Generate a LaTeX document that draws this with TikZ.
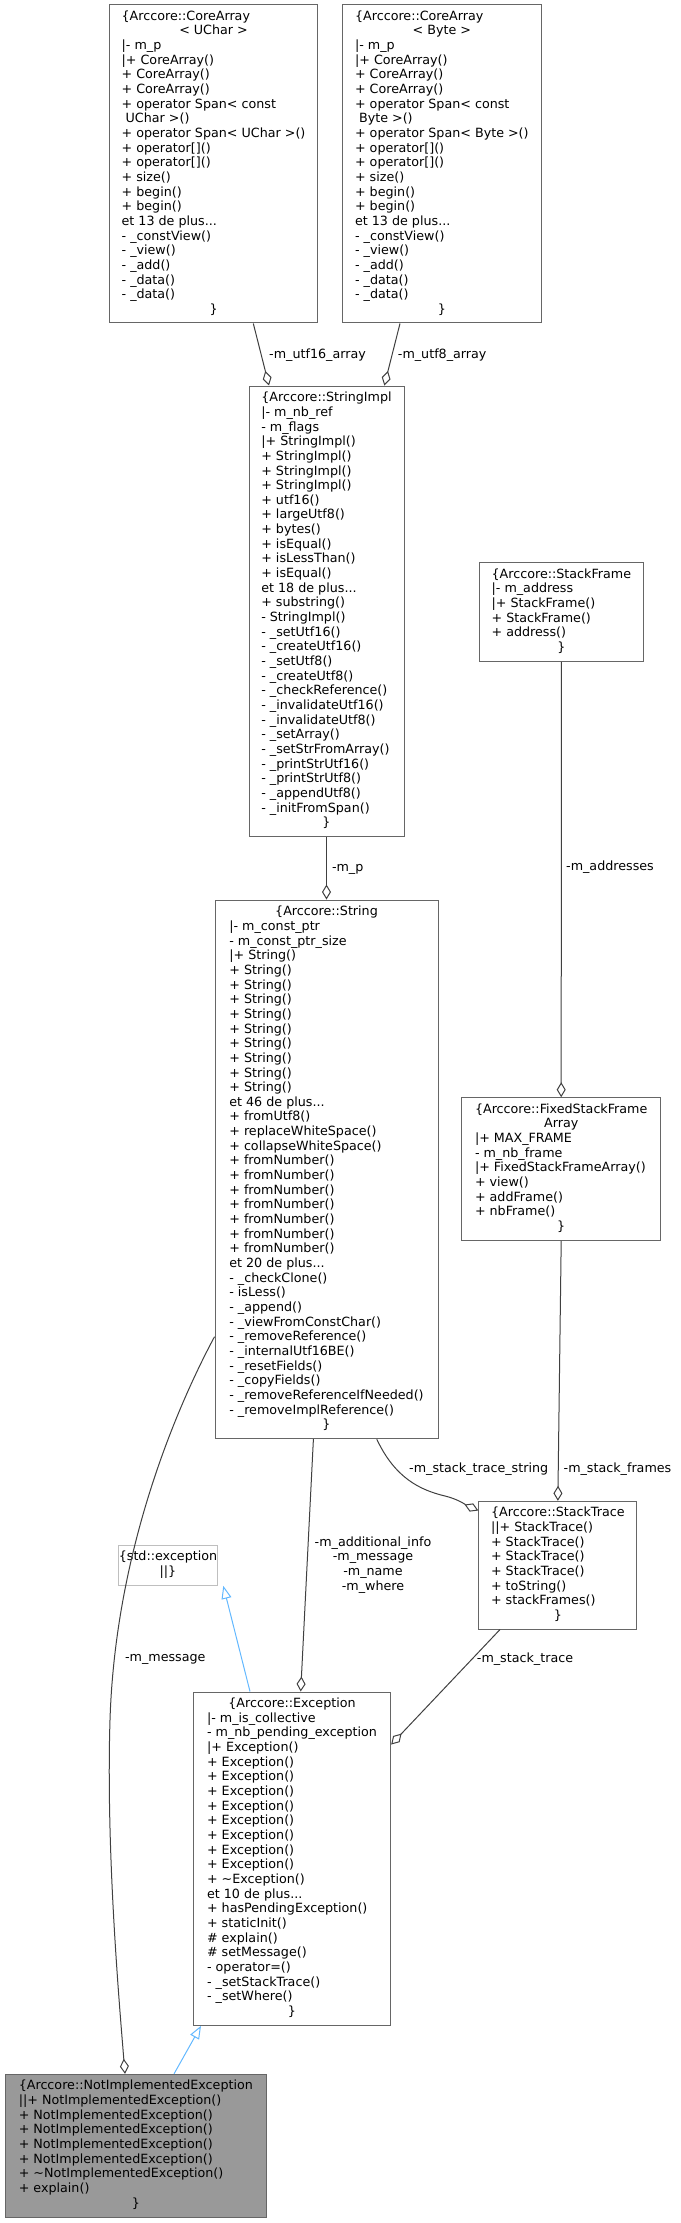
\documentclass[tikz,border=0pt]{standalone}
\usepackage{fontspec}
\setmainfont{DejaVu Sans}
\usetikzlibrary{arrows.meta}
\definecolor{boxc}{HTML}{666666}
\definecolor{edgec}{HTML}{404040}
\definecolor{inhc}{HTML}{63B8FF}
\definecolor{extc}{HTML}{BFBFBF}
\definecolor{curc}{HTML}{999999}
\newcommand\cl[1]{\multicolumn{1}{@{}c@{}}{#1}}
\newcommand\tabtxt[1]{\begin{tabular}{@{}l@{}}#1\end{tabular}}
\begin{document}
\begin{tikzpicture}[x=1pt,y=-1pt,
  every node/.style={font=\fontsize{12.7}{14.66}\selectfont, text=black},
  cls/.style={draw=boxc, line width=1pt, fill=white, inner sep=0pt, anchor=center},
  lbl/.style={inner sep=0pt, anchor=center},
  agg/.style={draw=edgec, line width=1pt, -{Diamond[open, length=15pt, width=9pt]}},
  inh/.style={draw=inhc, line width=1pt, -{Triangle[open, length=13pt, width=10pt]}}]
\useasboundingbox (0,0) rectangle (680,2223);

% CoreArray<UChar>
\node[cls, minimum width=208.5pt, minimum height=318pt] (cau) at (213.55,164) {\tabtxt{%
\{Arccore::CoreArray\\
\cl{< UChar >}\\
|- m\_p\\
|+ CoreArray()\\
+ CoreArray()\\
+ CoreArray()\\
+ operator Span< const\\
\ UChar >()\\
+ operator Span< UChar >()\\
+ operator[]()\\
+ operator[]()\\
+ size()\\
+ begin()\\
+ begin()\\
et 13 de plus...\\
- \_constView()\\
- \_view()\\
- \_add()\\
- \_data()\\
- \_data()\\
\cl{\}}}};

% CoreArray<Byte>
\node[cls, minimum width=199.3pt, minimum height=318pt] (cab) at (441.85,164) {\tabtxt{%
\{Arccore::CoreArray\\
\cl{< Byte >}\\
|- m\_p\\
|+ CoreArray()\\
+ CoreArray()\\
+ CoreArray()\\
+ operator Span< const\\
\ Byte >()\\
+ operator Span< Byte >()\\
+ operator[]()\\
+ operator[]()\\
+ size()\\
+ begin()\\
+ begin()\\
et 13 de plus...\\
- \_constView()\\
- \_view()\\
- \_add()\\
- \_data()\\
- \_data()\\
\cl{\}}}};

% StringImpl
\node[cls, minimum width=155pt, minimum height=450.7pt] (si) at (326.5,611.35) {\tabtxt{%
\cl{\{Arccore::StringImpl}\\
|- m\_nb\_ref\\
- m\_flags\\
|+ StringImpl()\\
+ StringImpl()\\
+ StringImpl()\\
+ StringImpl()\\
+ utf16()\\
+ largeUtf8()\\
+ bytes()\\
+ isEqual()\\
+ isLessThan()\\
+ isEqual()\\
et 18 de plus...\\
+ substring()\\
- StringImpl()\\
- \_setUtf16()\\
- \_createUtf16()\\
- \_setUtf8()\\
- \_createUtf8()\\
- \_checkReference()\\
- \_invalidateUtf16()\\
- \_invalidateUtf8()\\
- \_setArray()\\
- \_setStrFromArray()\\
- \_printStrUtf16()\\
- \_printStrUtf8()\\
- \_appendUtf8()\\
- \_initFromSpan()\\
\cl{\}}}};

% StackFrame
\node[cls, minimum width=164.7pt, minimum height=99pt] (sf) at (561.35,611.8) {\tabtxt{%
\cl{\{Arccore::StackFrame}\\
|- m\_address\\
|+ StackFrame()\\
+ StackFrame()\\
+ address()\\
\cl{\}}}};

% String
\node[cls, minimum width=223pt, minimum height=538.7pt] (str) at (326.5,1169.35) {\tabtxt{%
\cl{\{Arccore::String}\\
|- m\_const\_ptr\\
- m\_const\_ptr\_size\\
|+ String()\\
+ String()\\
+ String()\\
+ String()\\
+ String()\\
+ String()\\
+ String()\\
+ String()\\
+ String()\\
+ String()\\
et 46 de plus...\\
+ fromUtf8()\\
+ replaceWhiteSpace()\\
+ collapseWhiteSpace()\\
+ fromNumber()\\
+ fromNumber()\\
+ fromNumber()\\
+ fromNumber()\\
+ fromNumber()\\
+ fromNumber()\\
+ fromNumber()\\
et 20 de plus...\\
- \_checkClone()\\
- isLess()\\
- \_append()\\
- \_viewFromConstChar()\\
- \_removeReference()\\
- \_internalUtf16BE()\\
- \_resetFields()\\
- \_copyFields()\\
- \_removeReferenceIfNeeded()\\
- \_removeImplReference()\\
\cl{\}}}};

% FixedStackFrameArray
\node[cls, minimum width=199pt, minimum height=142.6pt] (fsfa) at (561.2,1169) {\tabtxt{%
\cl{\{Arccore::FixedStackFrame}\\
\cl{Array}\\
|+ MAX\_FRAME\\
- m\_nb\_frame\\
|+ FixedStackFrameArray()\\
+ view()\\
+ addFrame()\\
+ nbFrame()\\
\cl{\}}}};

% StackTrace
\node[cls, minimum width=158.1pt, minimum height=127.7pt] (st) at (557.85,1565.15) {\tabtxt{%
\cl{\{Arccore::StackTrace}\\
||+ StackTrace()\\
+ StackTrace()\\
+ StackTrace()\\
+ StackTrace()\\
+ toString()\\
+ stackFrames()\\
\cl{\}}}};

% std::exception
\node[cls, draw=extc, minimum width=94.6pt, minimum height=40.3pt] (stdex) at (168,1565.15) {\tabtxt{%
\cl{\{std::exception}\\
\cl{||\}}}};

% Exception
\node[cls, minimum width=197.4pt, minimum height=333.3pt] (exc) at (292,1858.65) {\tabtxt{%
\cl{\{Arccore::Exception}\\
|- m\_is\_collective\\
- m\_nb\_pending\_exception\\
|+ Exception()\\
+ Exception()\\
+ Exception()\\
+ Exception()\\
+ Exception()\\
+ Exception()\\
+ Exception()\\
+ Exception()\\
+ Exception()\\
+ \textasciitilde Exception()\\
et 10 de plus...\\
+ hasPendingException()\\
+ staticInit()\\
\# explain()\\
\# setMessage()\\
- operator=()\\
- \_setStackTrace()\\
- \_setWhere()\\
\cl{\}}}};

% NotImplementedException
\node[cls, fill=curc, minimum width=261.7pt, minimum height=142.7pt] (nie) at (135.85,2145.65) {\tabtxt{%
\cl{\{Arccore::NotImplementedException}\\
||+ NotImplementedException()\\
+ NotImplementedException()\\
+ NotImplementedException()\\
+ NotImplementedException()\\
+ NotImplementedException()\\
+ \textasciitilde NotImplementedException()\\
+ explain()\\
\cl{\}}}};

% edges
\draw[agg] ([xshift=39.75pt]cau.south) -- ([xshift=-57.5pt]si.north);
\draw[agg] ([xshift=-41.85pt]cab.south) -- ([xshift=57.8pt]si.north);
\draw[agg] (si.south) -- (str.north);
\draw[agg] (sf.south) -- (fsfa.north);
\draw[agg] (fsfa.south) -- (st.north);
\draw[agg] ([xshift=50.3pt]str.south) .. controls (395,1478) and (420,1490) .. (445,1496)
   .. controls (458,1499) and (468,1506) .. ([yshift=-9.7pt]st.north west);
\draw[agg] ([xshift=-13.1pt]str.south) -- ([xshift=8.7pt]exc.north);
\draw[agg] ([xshift=-57.85pt]st.south) -- ([yshift=-53pt]exc.north east);
\draw[agg] ([yshift=-167.35pt]str.west) .. controls (170,1420) and (115,1560) .. (110,1720)
   .. controls (106,1850) and (119,2000) .. ([xshift=-10.85pt]nie.north);
\draw[inh] ([xshift=-42pt]exc.north) -- ([xshift=55.3pt]stdex.south);
\draw[inh] ([xshift=38.2pt]nie.north) -- ([xshift=-91pt]exc.south);

% edge labels
\node[lbl] (l1) at (317.5,355) {-m\_utf16\_array};
\node[lbl] (l2) at (442.2,355) {-m\_utf8\_array};
\node[lbl] (l3) at (347.7,869.3) {-m\_p};
\node[lbl] (l4) at (610,867.3) {-m\_addresses};
\node[lbl] (l5) at (478.7,1469.3) {-m\_stack\_trace\_string};
\node[lbl] (l6) at (617.5,1469.3) {-m\_stack\_frames};
\node[lbl, align=center] (l7) at (373,1564.7) {-m\_additional\_info\\-m\_message\\-m\_name\\-m\_where};
\node[lbl] (l8) at (525,1659.3) {-m\_stack\_trace};
\node[lbl] (l9) at (165.3,1659.5) {-m\_message};
\end{tikzpicture}
\end{document}
